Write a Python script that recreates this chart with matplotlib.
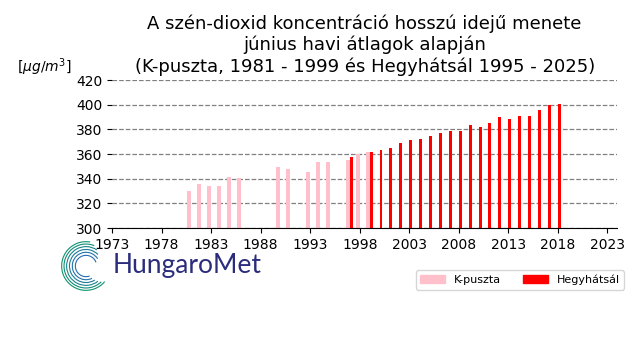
import numpy as np
import matplotlib.pyplot as plt
from matplotlib.patches import Patch, Arc

# K-puszta, June means
kp_years = [1981, 1982, 1983, 1984, 1985, 1986, 1990, 1991, 1993, 1994, 1995, 1997, 1998, 1999]
kp_values = [330.0, 335.5, 333.9, 333.9, 341.2, 340.4, 349.3, 347.6, 345.2, 353.3, 353.3, 354.9, 359.8, 361.4]

# Hegyhatsal, June means
hh_years = [1997, 1999, 2000, 2001, 2002, 2003, 2004, 2005, 2006, 2007, 2008,
            2009, 2010, 2011, 2012, 2013, 2014, 2015, 2016, 2017, 2018]
hh_values = [357.3, 361.4, 363.0, 364.6, 368.6, 371.1, 371.9, 374.3, 376.7, 378.3, 378.3,
             383.2, 381.6, 384.8, 389.6, 388.0, 391.2, 391.2, 395.3, 400.1, 400.9]

xticks = list(range(1973, 2024, 5))
yticks = list(range(300, 421, 20))

fig = plt.figure(figsize=(6.4, 3.6), dpi=100)
ax = fig.add_axes([112 / 640, 1 - 228 / 360, (617.3 - 112) / 640, (228 - 80) / 360])

ax.bar(kp_years, kp_values, width=-0.4, align='edge', color='pink', label='K-puszta')
ax.bar(hh_years, hh_values, width=0.3, align='edge', color='red', label='Hegyhátsál')

ax.set_xlim(1973, 2024)
ax.set_ylim(300, 420)
ax.set_xticks(xticks)
ax.set_xticklabels([str(t) for t in xticks])
ax.set_yticks(yticks)
ax.grid(axis='y', color='gray', linestyle='--', linewidth=0.9)
ax.set_axisbelow(True)
for s in ['top', 'right', 'left']:
    ax.spines[s].set_visible(False)

ax.set_title('A szén-dioxid koncentráció hosszú idejű menete\n'
             'június havi átlagok alapján\n'
             '(K-puszta, 1981 - 1999 és Hegyhátsál 1995 - 2025)', fontsize=13, pad=6)
fig.text(17 / 640, 1 - 67 / 360, r'[$\mu g/m^3$]', fontsize=10, va='center', ha='left')

fig.legend(handles=[Patch(color='pink', label='K-puszta'), Patch(color='red', label='Hegyhátsál')],
           loc='center', bbox_to_anchor=(520 / 640, 1 - 280 / 360), ncol=2, fontsize=8,
           handlelength=2.2, columnspacing=2.0)

# HungaroMet logo
lax = fig.add_axes([60 / 640, 1 - 292 / 360, 52 / 640, 52 / 360])
lax.set_xlim(-1.1, 1.1)
lax.set_ylim(-1.1, 1.1)
lax.set_aspect('equal')
lax.axis('off')
green = np.array([0.05, 0.58, 0.42])
blue = np.array([0.15, 0.42, 0.72])
radii = [0.45, 0.58, 0.70, 0.82, 0.93, 1.03]
for i, r in enumerate(radii):
    f = i / (len(radii) - 1)
    c = blue * (1 - f) + green * f
    lax.add_patch(Arc((0, 0), 2 * r, 2 * r, theta1=80 - 12 * (5 - i), theta2=290 + 6 * i,
                      color=c, linewidth=0.8))
fig.text(113 / 640, 1 - 266 / 360, 'HungaroMet', fontsize=19, color='#2b2d7c',
         family='Lato', va='center', ha='left')

fig.savefig('out.png', dpi=100)
